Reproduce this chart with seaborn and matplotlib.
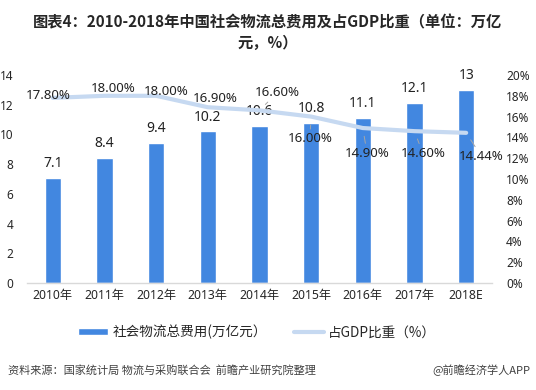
import seaborn as sns
import matplotlib.pyplot as plt
import numpy as np
import pandas as pd

years = ['2010年', '2011年', '2012年', '2013年', '2014年', '2015年', '2016年', '2017年', '2018E']
cost = [7.1, 8.4, 9.4, 10.2, 10.6, 10.8, 11.1, 12.1, 13]
ratio = [17.80, 18.00, 18.00, 16.90, 16.60, 16.00, 14.90, 14.60, 14.44]
ratio_txt = ['17.80%', '18.00%', '18.00%', '16.90%', '16.60%', '16.00%', '14.90%', '14.60%', '14.44%']

# label offsets for the line labels (points), leader flag
lab_off = [(-3, 2, False), (6, 5, False), (7, 3, False), (5, 6, False), (13, 13, True),
           (-1, -16, True), (3, -18, True), (6, -16, True), (11, -17, True)]

sns.set_theme(style='white')
plt.rcParams['font.family'] = ['Noto Sans', 'Noto Sans CJK SC', 'DejaVu Sans']
cjk = ['Noto Sans CJK SC', 'DejaVu Sans']

df = pd.DataFrame({'year': years, 'cost': cost, 'ratio': ratio})
df['x'] = np.arange(len(years))

fig = plt.figure(figsize=(5.36, 3.90), dpi=100)
ax = fig.add_axes([27 / 536, 1 - 283 / 390, 465 / 536, 208 / 390])
bar_color = '#4287E0'
line_color = '#C6D9F1'

ax.bar(df['x'], df['cost'], width=0.32, color=bar_color, label='社会物流总费用(万亿元）', zorder=2)
ax.set_xlim(-0.5, len(years) - 0.5)
ax.set_ylim(0, 14)
ax.set_yticks(range(0, 15, 2))
ax.set_xticks(df['x'])
ax.set_xticklabels(years, fontsize=8.8)
ax.tick_params(axis='y', labelsize=8.5, pad=10, length=0)
ax.tick_params(axis='x', length=0, pad=4)
for s in ['top', 'right', 'left']:
    ax.spines[s].set_visible(False)
ax.spines['bottom'].set_color('#D9D9D9')
ax.spines['bottom'].set_linewidth(1)

for xi, v in zip(df['x'], df['cost']):
    ax.annotate(f'{v:g}', (xi, v), xytext=(0, 5), textcoords='offset points',
                ha='center', va='bottom', fontsize=10, color='#222222')

ax2 = ax.twinx()
sns.lineplot(data=df, x='x', y='ratio', ax=ax2, color=line_color, linewidth=3,
             label='占GDP比重（%）', legend=False, zorder=3)
ax2.set_ylim(0, 20)
ax2.set_yticks(range(0, 21, 2))
ax2.set_yticklabels([f'{t}%' for t in range(0, 21, 2)])
ax2.set_ylabel('')
ax2.set_xlabel('')
ax.set_xlabel('')
ax2.tick_params(axis='y', labelsize=8.5, pad=10, length=0)
for s in ['top', 'right', 'left', 'bottom']:
    ax2.spines[s].set_visible(False)

for xi, v, t, (dx, dy, lead) in zip(df['x'], df['ratio'], ratio_txt, lab_off):
    props = dict(arrowstyle='-', color='#A6A6A6', lw=0.7, shrinkA=0, shrinkB=6) if lead else None
    ax2.annotate(t, (xi, v), xytext=(dx, dy), textcoords='offset points',
                 ha='center', va='center', fontsize=9.5, color='#222222',
                 arrowprops=props, zorder=4)

h1, l1 = ax.get_legend_handles_labels()
h2, l2 = ax2.get_legend_handles_labels()
fig.legend(h1 + h2, l1 + l2, loc='center', bbox_to_anchor=(0.48, 1 - 332 / 390),
           ncol=2, frameon=False, handlelength=2.2, handleheight=0.5,
           columnspacing=2, handletextpad=0.3, prop={'family': cjk, 'size': 9.8})

fig.text(0.5, 1 - 22 / 390, '图表4：2010-2018年中国社会物流总费用及占GDP比重（单位：万亿',
         ha='center', va='center', fontsize=11, fontweight='bold', color='#262626', family=cjk)
fig.text(0.5, 1 - 43 / 390, '元，%）', ha='center', va='center', fontsize=11,
         fontweight='bold', color='#262626', family=cjk)
fig.text(8 / 536, 1 - 370 / 390, '资料来源：国家统计局 物流与采购联合会  前瞻产业研究院整理',
         ha='left', va='center', fontsize=8, style='italic', color='#404040', family=cjk)
fig.text(530 / 536, 1 - 370 / 390, '@前瞻经济学人APP', ha='right', va='center',
         fontsize=8, color='#404040', family=cjk)

fig.savefig('out.png', dpi=100)
